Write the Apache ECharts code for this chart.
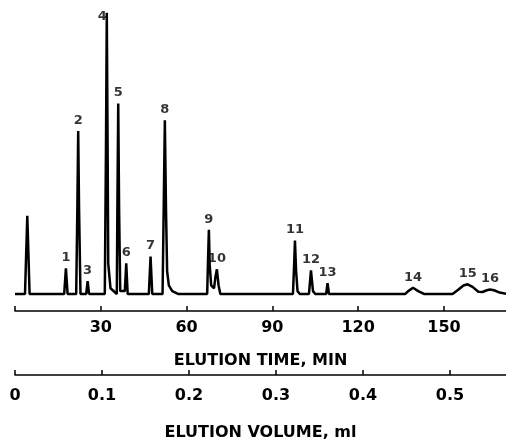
<!DOCTYPE html>
<html>
<head>
<meta charset="utf-8">
<script src="https://cdn.jsdelivr.net/npm/echarts@6/dist/echarts.min.js"></script>
<style>
  html, body { margin: 0; padding: 0; background: #fff; }
  #chart { width: 506px; height: 446px; }
</style>
</head>
<body>
<div id="chart"></div>
<script>
// detector trace: time (min) and signal (arbitrary units)
var traceTime = [
  0, 3.5, 3.9, 4.3, 4.7, 5.1,
  17.2, 17.8, 18.4,
  21.4, 21.8, 22.1, 22.4, 22.9,
  24.9, 25.4, 25.9,
  31.4, 31.8, 32.1, 32.4, 32.6, 33.0, 33.4,
  35.6, 35.8, 36.1, 36.4, 36.8,
  38.4, 38.9, 39.4,
  46.8, 47.4, 48.0,
  51.6, 52.0, 52.4, 52.8, 53.2, 53.8, 55.0, 57.0,
  67.2, 67.5, 67.8, 68.1, 68.6, 69.6, 70.1, 70.6, 71.2, 71.8,
  97.2, 97.6, 97.9, 98.3, 98.8, 99.6,
  102.8, 103.5, 104.2, 105.0,
  108.8, 109.3, 109.8,
  136.5, 137.5, 139.2, 141.0, 143.0,
  153.0, 155.0, 156.8, 158.3, 160.0, 162.0, 163.5, 165.0, 166.1, 167.5, 169.5, 172
];
var traceSignal = [
  0, 0, 14, 27.5, 14, 0,
  0, 9, 0,
  0, 30, 57.4, 30, 0,
  0, 4.5, 0,
  0, 50, 99, 50, 10.8, 10.8, 2,
  0, 30, 67.1, 30, 1,
  1, 10.8, 0,
  0, 13.2, 0,
  0, 30, 61.2, 30, 8, 3, 1, 0,
  0, 12, 22.6, 10, 3, 2, 6, 8.7, 3, 0,
  0, 10, 18.8, 8, 1, 0,
  0, 8.3, 1, 0,
  0, 3.8, 0,
  0, 1, 2.2, 1, 0,
  0, 1.5, 3, 3.4, 2.5, 0.8, 0.7, 1.3, 1.6, 1.3, 0.5, 0
];

// numbered peaks
var peakNames = ['1', '2', '3', '4', '5', '6', '7', '8', '9', '10', '11', '12', '13', '14', '15', '16'];
var peakTime = [17.8, 22.1, 25.4, 32.1, 36.1, 38.9, 47.4, 52.4, 67.8, 70.6, 97.9, 103.5, 109.3, 139.2, 158.3, 166.1];
var peakSignal = [9, 57.4, 4.5, 99, 67.1, 10.8, 13.2, 61.2, 22.6, 8.7, 18.8, 8.3, 3.8, 2.2, 3.4, 1.6];

var timeTicks = [30, 60, 90, 120, 150];
var volumeTicks = [0, 0.1, 0.2, 0.3, 0.4, 0.5];

var font = 'DejaVu Sans';

var trace = traceTime.map(function (t, i) { return [t, traceSignal[i]]; });
var peaks = peakNames.map(function (n, i) {
  var item = { value: [peakTime[i], peakSignal[i]], name: n };
  if (n === '4') {
    item.label = { position: 'left', distance: 0, offset: [0, 4] };
  }
  return item;
});

var chart = echarts.init(document.getElementById('chart'));
chart.setOption({
  backgroundColor: '#ffffff',
  animation: false,
  grid: { left: 15, right: 0, top: 10, bottom: 131 },
  xAxis: [{
    type: 'value',
    min: 0,
    max: 171.7,
    interval: 30,
    position: 'bottom',
    name: 'ELUTION TIME, MIN',
    nameLocation: 'middle',
    nameGap: 42,
    nameTextStyle: { fontFamily: font, fontWeight: 'bold', fontSize: 16, color: '#000' },
    axisLine: { onZero: false, lineStyle: { color: '#000', width: 1.5 } },
    axisTick: { inside: true, length: 5, lineStyle: { color: '#000', width: 1.5 } },
    axisLabel: {
      margin: 9,
      fontFamily: font, fontWeight: 'bold', fontSize: 16, color: '#000',
      showMaxLabel: false,
      formatter: function (v) { return timeTicks.indexOf(v) >= 0 ? String(v) : ''; }
    },
    splitLine: { show: false }
  }, {
    type: 'value',
    min: 0,
    max: 0.5644,
    interval: 0.1,
    position: 'bottom',
    offset: 64,
    name: 'ELUTION VOLUME, ml',
    nameLocation: 'middle',
    nameGap: 50,
    nameTextStyle: { fontFamily: font, fontWeight: 'bold', fontSize: 16, color: '#000' },
    axisLine: { onZero: false, lineStyle: { color: '#000', width: 1.5 } },
    axisTick: { inside: true, length: 5, lineStyle: { color: '#000', width: 1.5 } },
    axisLabel: {
      margin: 13,
      fontFamily: font, fontWeight: 'bold', fontSize: 16, color: '#000',
      showMaxLabel: false,
      formatter: function (v) {
        var r = Math.round(v * 10) / 10;
        return volumeTicks.indexOf(r) >= 0 ? String(r) : '';
      }
    },
    splitLine: { show: false }
  }],
  yAxis: { type: 'value', min: -6, max: 100, show: false },
  series: [{
    type: 'line',
    data: trace,
    xAxisIndex: 0,
    symbol: 'none',
    smooth: false,
    lineStyle: { color: '#000', width: 2.5 }
  }, {
    type: 'scatter',
    data: peaks,
    xAxisIndex: 0,
    symbolSize: 0,
    label: {
      show: true,
      position: 'top',
      distance: 4,
      formatter: '{b}',
      fontFamily: font, fontWeight: 'bold', fontSize: 13, color: '#000'
    }
  }]
});
</script>
</body>
</html>
